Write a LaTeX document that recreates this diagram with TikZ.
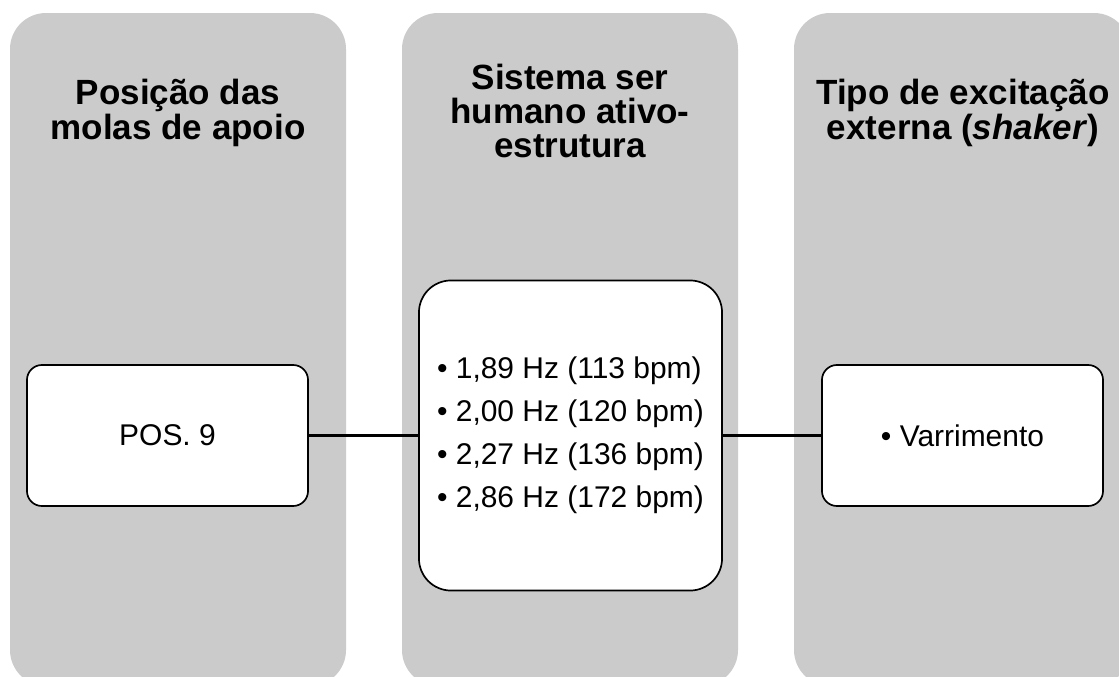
\documentclass[tikz,border=0pt]{standalone}
\usepackage{fontspec}
\setmainfont{Liberation Sans}
\definecolor{colgray}{RGB}{203,203,203}

\begin{document}
\begin{tikzpicture}[x=0.025cm, y=-0.025cm,
    column/.style={fill=colgray, rounded corners=0.9cm},
    heading/.style={font=\fontsize{24.9}{24.5}\selectfont\bfseries, align=center},
    item/.style={draw, fill=white, line width=1.2pt, rounded corners=0.375cm,
        minimum width=7.025cm, minimum height=3.525cm, inner sep=0pt,
        font=\fontsize{21.3}{30.6}\selectfont, align=center}]
    \useasboundingbox (0,0) rectangle (1119,677);

    % gray columns
        \fill[column] (10,13) rectangle (346,686);
        \fill[column] (402,13) rectangle (738,686);
        \fill[column] (794,13) rectangle (1130,686);

    % column headings
        \node[heading] (posTitle) at (178,113) {Posição das\\molas de apoio};
        \node[heading] (sysTitle) at (570,111) {Sistema ser\\humano ativo-\\estrutura};
        \node[heading] (excTitle) at (963,113) {Tipo de excitação\\externa (\textit{shaker})};

    % boxes
        \node[item] (pos) at (167.5,435.5) {POS. 9};
        \node[item, rounded corners=0.8cm, minimum width=7.575cm, minimum height=7.75cm, align=left]
            (freq) at (570.5,435.5) {• 1,89 Hz (113 bpm)\\• 2,00 Hz (120 bpm)\\• 2,27 Hz (136 bpm)\\• 2,86 Hz (172 bpm)};
        \node[item] (exc) at (962.5,435.5) {• Varrimento};

    % links
        \draw[line width=1.6pt] (pos) -- (freq);
        \draw[line width=1.6pt] (freq) -- (exc);
\end{tikzpicture}
\end{document}
